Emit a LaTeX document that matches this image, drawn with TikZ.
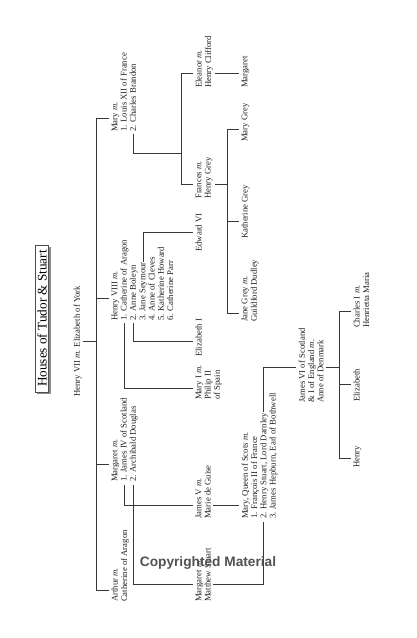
\documentclass[tikz,border=0pt]{standalone}
\usepackage{fontspec}
\newfontfamily\wmfont{Liberation Sans}
\newfontfamily\bookfont{Liberation Serif}
\usetikzlibrary{backgrounds}

\begin{document}
\begin{tikzpicture}[x=1pt,y=-1pt,
        pers/.style={rotate=90,anchor=north west,inner sep=0pt,align=left,
          font=\bookfont\fontsize{8.7}{9.3}\selectfont,text=black!88},
        link/.style={draw=black!78,line width=1pt},
        titlebox/.style={rotate=90,draw=black!70,line width=0.5pt,fill=white,
          inner xsep=5pt,inner ysep=2pt,font=\bookfont\fontsize{13.2}{14}\selectfont}]

  \useasboundingbox (0,0) rectangle (416,638);

  % title
  \node[titlebox] (title) at (42,318.5) {Houses of Tudor \& Stuart};
  \begin{scope}[on background layer]
    \fill[black!45] ([shift={(2,2)}]title.north west) rectangle ([shift={(2,2)}]title.south east);
  \end{scope}

  % generations
  \node[pers] (h7) at (73.5,397) {Henry VII \emph{m.} Elizabeth of York};

  \node[pers] (mary) at (111.5,132) {Mary \emph{m.}\\1. Louis XII of France\\2. Charles Brandon};
  \node[pers] (h8) at (111.5,321) {Henry VIII \emph{m.}\\1. Catherine of Aragon\\2. Anne Boleyn\\3. Jane Seymour\\4. Anne of Cleves\\5. Katherine Howard\\6. Catherine Parr};
  \node[pers] (margaret) at (111.5,482) {Margaret \emph{m.}\\1. James IV of Scotland\\2. Archibald Douglas};
  \node[pers] (arthur) at (111.5,602) {Arthur \emph{m.}\\Catherine of Aragon};

  \node[pers] (eleanor) at (195.5,88) {Eleanor \emph{m.}\\Henry Clifford};
  \node[pers] (frances) at (195.5,199) {Frances \emph{m.}\\Henry Grey};
  \node[pers] (edward) at (195.5,252) {Edward VI};
  \node[pers] (eliz) at (195.5,357) {Elizabeth I};
  \node[pers] (maryI) at (195.5,400) {Mary I \emph{m.}\\Philip II\\of Spain};
  \node[pers] (jamesV) at (195.5,519) {James V \emph{m.}\\Marie de Guise};
  \node[pers] (margD) at (195.5,602) {Margaret \emph{m.}\\Matthew Stuart};

  \node[pers] (margC) at (241.5,88) {Margaret};
  \node[pers] (maryG) at (241.5,142) {Mary Grey};
  \node[pers] (kathG) at (241.5,239) {Katherine Grey};
  \node[pers] (janeG) at (241.5,322) {Jane Grey \emph{m.}\\Guildford Dudley};
  \node[pers] (maryQ) at (241.5,519) {Mary, Queen of Scots \emph{m.}\\1. François II of France\\2. Henry Stuart, Lord Darnley\\3. James Hepburn, Earl of Bothwell};

  \node[pers] (jamesVI) at (298.5,403) {James VI of Scotland\\\& I of England \emph{m.}\\Anne of Denmark};

  \node[pers] (charles) at (353.5,328) {Charles I \emph{m.}\\Henrietta Maria};
  \node[pers] (elizS) at (353.5,402) {Elizabeth};
  \node[pers] (henry) at (353.5,468) {Henry};

  % junctions
  \coordinate (trunktop) at (96,118);
  \coordinate (j8) at (96,298);
  \coordinate (jm) at (96,464);
  \coordinate (trunkbot) at (96,590);

  \coordinate (maryw2) at (133,134);
  \coordinate (brandk) at (181,153);
  \coordinate (brandtop) at (181,73);
  \coordinate (brandbot) at (181,184);

  \coordinate (greyk) at (227,184);
  \coordinate (greytop) at (227,129);
  \coordinate (greymid) at (227,221);
  \coordinate (greybot) at (227,313);

  \coordinate (h8w1) at (124,323);
  \coordinate (h8w2) at (133,323);
  \coordinate (h8w3) at (143,262);
  \coordinate (h8k1) at (124,388);
  \coordinate (h8k2) at (133,341);
  \coordinate (h8k3) at (143,232);

  \coordinate (mgw1) at (124,485);
  \coordinate (mgw2) at (133,485);
  \coordinate (mgk1) at (124,505);
  \coordinate (mgk2) at (133,584);

  \coordinate (darnbot) at (263,522);
  \coordinate (darntop) at (263,412);
  \coordinate (jvik) at (263,367);

  \coordinate (stuj) at (339,367);
  \coordinate (stutop) at (339,311);
  \coordinate (stumid) at (339,384);
  \coordinate (stubot) at (339,458);

  % Henry VII and his children
  \draw[link] (trunktop) -- (trunkbot);
  \draw[link,shorten <=1pt] (h7.south) -- (h7.south -| trunktop);
  \draw[link,shorten >=3pt] (trunktop) -- (trunktop -| mary.north);
  \draw[link,shorten >=3pt] (j8) -- (j8 -| h8.north);
  \draw[link,shorten >=3pt] (jm) -- (jm -| margaret.north);
  \draw[link,shorten >=3pt] (trunkbot) -- (trunkbot -| arthur.north);

  % Mary and Charles Brandon
  \draw[link] (maryw2) |- (brandk);
  \draw[link] (brandtop) -- (brandbot);
  \draw[link,shorten >=3pt] (brandtop) -- (brandtop -| eleanor.north);
  \draw[link,shorten >=3pt] (brandbot) -- (brandbot -| frances.north);
  \draw[link,shorten <=2pt,shorten >=3pt] (eleanor.south |- brandtop) -- (brandtop -| margC.north);
  \draw[link,shorten <=2pt] (frances.south |- brandbot) -- (greyk);
  \draw[link] (greytop) -- (greybot);
  \draw[link,shorten >=3pt] (greytop) -- (greytop -| maryG.north);
  \draw[link,shorten >=3pt] (greymid) -- (greymid -| kathG.north);
  \draw[link,shorten >=3pt] (greybot) -- (greybot -| janeG.north);

  % Henry VIII
  \draw[link,shorten >=3pt] (h8w1) -- (h8k1) -- (h8k1 -| maryI.north);
  \draw[link,shorten >=3pt] (h8w2) -- (h8k2) -- (h8k2 -| eliz.north);
  \draw[link,shorten >=3pt] (h8w3) -- (h8k3) -- (h8k3 -| edward.north);

  % Margaret and the Stuarts
  \draw[link,shorten >=3pt] (mgw1) -- (mgk1) -- (mgk1 -| jamesV.north);
  \draw[link,shorten >=3pt] (mgw2) -- (mgk2) -- (mgk2 -| margD.north);
  \draw[link,shorten <=2pt,shorten >=3pt] (jamesV.south |- mgk1) -- (mgk1 -| maryQ.north);
  \draw[link,shorten <=2pt] (margD.south |- mgk2) -| (darnbot);
  \draw[link,shorten >=3pt] (darntop) -- (jvik) -- (jvik -| jamesVI.north);
  \draw[link,shorten <=2pt] (jamesVI.south |- jvik) -- (stuj);
  \draw[link] (stutop) -- (stubot);
  \draw[link,shorten >=3pt] (stutop) -- (stutop -| charles.north);
  \draw[link,shorten >=3pt] (stumid) -- (stumid -| elizS.north);
  \draw[link,shorten >=3pt] (stubot) -- (stubot -| henry.north);

  \node[font=\wmfont\bfseries\fontsize{13.7}{16}\selectfont,text=black!68] (wm) at (208,563) {Copyrighted Material};

\end{tikzpicture}
\end{document}
